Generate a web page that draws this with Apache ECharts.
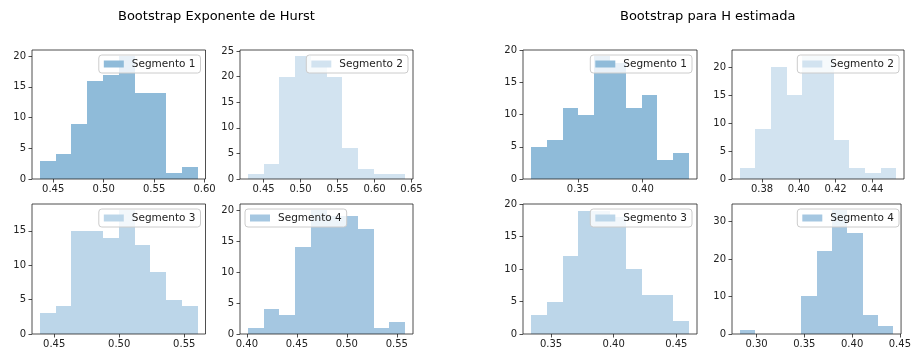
<!DOCTYPE html>
<html>
<head>
<meta charset="utf-8">
<script src="https://cdn.jsdelivr.net/npm/echarts@6/dist/echarts.min.js"></script>
<style>
html, body { margin: 0; padding: 0; background: #fff; }
#chart { width: 914px; height: 354px; }
</style>
</head>
<body>
<div id="chart"></div>
<script>
const titles = ['Bootstrap Exponente de Hurst', 'Bootstrap para H estimada'];
const segNames = ['Segmento 1', 'Segmento 2', 'Segmento 3', 'Segmento 4'];
// azul por defecto de matplotlib con alpha 0.5 / 0.2 / 0.3 / 0.4 sobre blanco
const segColors = ['#8fbbd9', '#d2e3f0', '#bcd6e9', '#a5c7e1'];

// primer y ultimo borde de los 10 bins, y cuentas
const hurstRange1 = [0.4368, 0.5931];
const hurstCounts1 = [3, 4, 9, 16, 17, 20, 14, 14, 1, 2];
const hurstRange2 = [0.4288, 0.6414];
const hurstCounts2 = [1, 3, 20, 24, 22, 20, 6, 2, 1, 1];
const hurstRange3 = [0.4390, 0.5603];
const hurstCounts3 = [3, 4, 15, 15, 14, 18, 13, 9, 5, 4];
const hurstRange4 = [0.4010, 0.5583];
const hurstCounts4 = [1, 4, 3, 14, 20, 19, 19, 17, 1, 2];

const hRange1 = [0.3137, 0.4358];
const hCounts1 = [5, 6, 11, 10, 19, 18, 11, 13, 3, 4];
const hRange2 = [0.3679, 0.4530];
const hCounts2 = [2, 9, 20, 15, 22, 22, 7, 2, 1, 2];
const hRange3 = [0.3339, 0.4602];
const hCounts3 = [3, 5, 12, 19, 19, 18, 10, 6, 6, 2];
const hRange4 = [0.2823, 0.4432];
const hCounts4 = [1, 0, 0, 0, 10, 22, 33, 27, 5, 2];

// ticks
const hurstXTicks1 = [0.45, 0.50, 0.55, 0.60];
const hurstXTicks2 = [0.45, 0.50, 0.55, 0.60, 0.65];
const hurstXTicks3 = [0.45, 0.50, 0.55];
const hurstXTicks4 = [0.40, 0.45, 0.50, 0.55];
const hXTicks1 = [0.35, 0.40];
const hXTicks2 = [0.38, 0.40, 0.42, 0.44];
const hXTicks3 = [0.35, 0.40, 0.45];
const hXTicks4 = [0.30, 0.35, 0.40, 0.45];
const yTicks20 = [0, 5, 10, 15, 20];
const yTicks25 = [0, 5, 10, 15, 20, 25];
const yTicks15 = [0, 5, 10, 15];
const yTicks30 = [0, 10, 20, 30];

const panels = [
  { range: hurstRange1, counts: hurstCounts1, xTicks: hurstXTicks1, yTicks: yTicks20, seg: 0, col: 0, row: 0 },
  { range: hurstRange2, counts: hurstCounts2, xTicks: hurstXTicks2, yTicks: yTicks25, seg: 1, col: 1, row: 0 },
  { range: hurstRange3, counts: hurstCounts3, xTicks: hurstXTicks3, yTicks: yTicks15, seg: 2, col: 0, row: 1 },
  { range: hurstRange4, counts: hurstCounts4, xTicks: hurstXTicks4, yTicks: yTicks20, seg: 3, col: 1, row: 1, legendLeft: true },
  { range: hRange1, counts: hCounts1, xTicks: hXTicks1, yTicks: yTicks20, seg: 0, col: 2, row: 0 },
  { range: hRange2, counts: hCounts2, xTicks: hXTicks2, yTicks: yTicks20, seg: 1, col: 3, row: 0 },
  { range: hRange3, counts: hCounts3, xTicks: hXTicks3, yTicks: yTicks20, seg: 2, col: 2, row: 1 },
  { range: hRange4, counts: hCounts4, xTicks: hXTicks4, yTicks: yTicks30, seg: 3, col: 3, row: 1 }
];

// layout de los ejes (px)
const W = 914;
const colLeft = [32, 240, 523, 732];
const colWidth = [173.5, 173, 174, 172];
const rowTop = [50, 204];
const rowHeight = [129, 130];

const font = 'DejaVu Sans';
const textColor = '#222';

const chart = echarts.init(document.getElementById('chart'));

const grids = [], xAxes = [], yAxes = [], series = [], legends = [];

panels.forEach((p, i) => {
  const lo = p.range[0], hi = p.range[1];
  const step = (hi - lo) / p.counts.length;
  const data = p.counts.map((c, k) => [lo + k * step, lo + (k + 1) * step, c]);
  const pad = (hi - lo) * 0.05;
  const maxC = Math.max(...p.counts);
  const yMax = Math.max(maxC * 1.05, p.yTicks[p.yTicks.length - 1]);

  const left = colLeft[p.col], top = rowTop[p.row];
  const width = colWidth[p.col], height = rowHeight[p.row];

  grids.push({
    left: left, top: top, width: width, height: height,
    show: true, z: 10, backgroundColor: 'transparent',
    borderColor: '#222', borderWidth: 0.8
  });

  xAxes.push({
    type: 'value', gridIndex: i, min: lo - pad, max: hi + pad,
    splitLine: { show: false },
    axisLine: { show: false },
    axisTick: { show: true, customValues: p.xTicks, length: 3.5, lineStyle: { color: '#222', width: 0.8 } },
    axisLabel: {
      customValues: p.xTicks, margin: 5,
      fontFamily: font, fontSize: 10, color: textColor,
      formatter: v => v.toFixed(2)
    }
  });

  yAxes.push({
    type: 'value', gridIndex: i, min: 0, max: yMax,
    splitLine: { show: false },
    axisLine: { show: false },
    axisTick: { show: true, customValues: p.yTicks, length: 3.5, lineStyle: { color: '#222', width: 0.8 } },
    axisLabel: {
      customValues: p.yTicks, margin: 6,
      fontFamily: font, fontSize: 10, color: textColor
    }
  });

  series.push({
    type: 'custom',
    name: segNames[p.seg],
    xAxisIndex: i, yAxisIndex: i,
    itemStyle: { color: segColors[p.seg] },
    encode: { x: [0, 1], y: 2 },
    data: data,
    clip: true,
    renderItem: (params, api) => {
      const a = api.coord([api.value(0), 0]);
      const b = api.coord([api.value(1), api.value(2)]);
      const x0 = Math.round(a[0]), x1 = Math.round(b[0]);
      const y0 = Math.round(a[1]), y1 = Math.round(b[1]);
      return {
        type: 'rect',
        shape: { x: x0, y: y1, width: x1 - x0, height: y0 - y1 },
        style: { fill: api.visual('color') }
      };
    }
  });

  const lg = {
    data: [segNames[p.seg]],
    top: top + 5,
    orient: 'horizontal',
    selectedMode: false,
    z: 20,
    icon: 'rect',
    itemWidth: 20, itemHeight: 7,
    padding: [3, 5, 3, 5],
    backgroundColor: 'rgba(255,255,255,0.8)',
    borderColor: '#cccccc', borderWidth: 1, borderRadius: 3,
    textStyle: { fontFamily: font, fontSize: 10.5, color: textColor, padding: [0, 0, 0, 3], lineHeight: 12 }
  };
  if (p.legendLeft) lg.left = left + 5;
  else lg.right = W - (left + width) + 5;
  legends.push(lg);
});

chart.setOption({
  animation: false,
  backgroundColor: '#fff',
  grid: grids,
  xAxis: xAxes,
  yAxis: yAxes,
  legend: legends,
  series: series,
  graphic: [
    { type: 'text', left: 118, top: 10, style: { text: titles[0], font: '13px "DejaVu Sans"', fill: '#000' } },
    { type: 'text', left: 620, top: 10, style: { text: titles[1], font: '13px "DejaVu Sans"', fill: '#000' } }
  ]
});
</script>
</body>
</html>
